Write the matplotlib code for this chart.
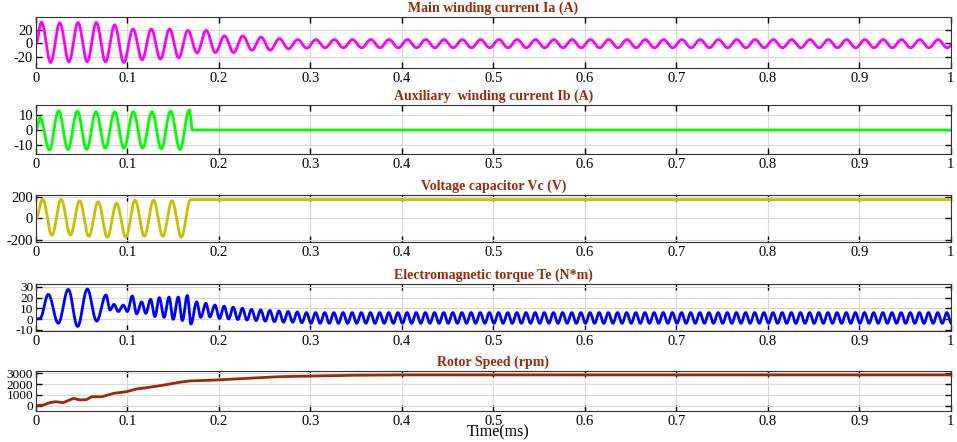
import numpy as np
import matplotlib
matplotlib.use("Agg")
import matplotlib.pyplot as plt

plt.rcParams['font.family'] = ['Liberation Serif', 'DejaVu Serif']
plt.rcParams['axes.unicode_minus'] = False

# ---- data (time in s as labelled "ms") ----
# Main winding current Ia: alternating extrema, first peak at ia_t0, half period ia_h
ia_t0, ia_h = 0.006, 0.01
ia_ext = [31, -28, 30, -27, 30.5, -27, 30.5, -27, 27, -28, 21, -24, 21, -23, 21, -21,
          19, -14, 19, -13.5, 11, -13.5, 11, -10, 9, -10, 7, -8, 5.5, -7]
ia_steady = [5.5, -6.5]

# Auxiliary winding current Ib (switched off at ib_off)
ib_t0, ib_h = 0.0044, 0.0102
ib_ext = [8.7, -13.8, 13.3, -13.4, 13, -13.4, 12.6, -12.6, 12.6, -12.6, 12.6, -12.5,
          12.6, -13, 13, -13.4, 13.8]
ib_off = 0.171

# Capacitor voltage Vc (held at vc_hold after switch-off)
vc_t0, vc_h = 0.0073, 0.0101
vc_ext = [178, -157, 178, -157, 165, -167, 155, -176, 141, -176, 170, -167, 170, -167, 165, -176]
vc_off, vc_hold = 0.169, 175

# Electromagnetic torque Te, transient extrema (time, value)
te_t = [0, 0.0044, 0.0135, 0.0244, 0.0353, 0.0455, 0.0561, 0.0663, 0.0765, 0.0809, 0.0852,
        0.090, 0.0954, 0.0998, 0.1053, 0.110, 0.1155, 0.120, 0.1253, 0.130, 0.1348, 0.140,
        0.1454, 0.150, 0.1555, 0.160, 0.1654, 0.1694, 0.1756, 0.180, 0.1858, 0.190, 0.1956]
te_v = [0, 0.5, 23, -4, 27.7, -7, 28, -2, 22.4, 8.4, 13.7, 7, 13, 7, 21.5, 4.7, 16, 5.3,
        18.4, 2.2, 20, 1.5, 20.5, -0.3, 20.5, -1.5, 22, -4.7, 16, 1.5, 14.6, 2, 13]
# decaying part after 0.1956 (100 Hz, half period 0.005)
te_decay = [0.5, 12, 0, 11, -0.5, 10, -1, 9, -1.5, 8.5, -2, 8, -2.5, 7.5, -3, 7, -3, 6.5,
            -3.5, 6]
te_steady = [-4, 6]
te_h = 0.005

# Rotor speed (rpm)
sp_t = [0, 0.008, 0.015, 0.021, 0.030, 0.041, 0.048, 0.055, 0.061, 0.072, 0.085, 0.099,
        0.110, 0.125, 0.139, 0.157, 0.168, 0.197, 0.23, 0.267, 0.303, 0.35, 0.4, 1.0]
sp_v = [0, 60, 280, 370, 290, 680, 530, 560, 830, 830, 1150, 1300, 1550, 1720, 1900,
        2170, 2290, 2380, 2530, 2690, 2750, 2820, 2850, 2850]

titles = ['Main winding current Ia (A)', 'Auxiliary  winding current Ib (A)',
          'Voltage capacitor Vc (V)', 'Electromagnetic torque Te (N*m)', 'Rotor Speed (rpm)']


def cos_path(tk, vk, n=12):
    # half-cosine segments between successive extrema
    tt, yy = [], []
    for i in range(len(tk) - 1):
        s = np.linspace(0, 1, n, endpoint=False)
        tt.append(tk[i] + (tk[i + 1] - tk[i]) * s)
        yy.append(vk[i] + (vk[i + 1] - vk[i]) * (1 - np.cos(np.pi * s)) / 2)
    tt.append([tk[-1]])
    yy.append([vk[-1]])
    return np.concatenate(tt), np.concatenate(yy)


# Ia
t_ext = ia_t0 + ia_h * np.arange(len(ia_ext))
t_st = np.arange(t_ext[-1] + ia_h, 1.0 + ia_h, ia_h)
ia_tk = np.concatenate([[0], t_ext, t_st])
ia_vk = np.concatenate([[0], ia_ext, np.resize(ia_steady, len(t_st))])
ia_x, ia_y = cos_path(ia_tk, ia_vk)

# Ib
t_ext = ib_t0 + ib_h * np.arange(len(ib_ext))
ib_x, ib_y = cos_path(np.concatenate([[0], t_ext, [ib_off, 1.0]]),
                      np.concatenate([[0], ib_ext, [0, 0]]))

# Vc
t_ext = vc_t0 + vc_h * np.arange(len(vc_ext))
vc_x, vc_y = cos_path(np.concatenate([[0], t_ext, [vc_off, 1.0]]),
                      np.concatenate([[0], vc_ext, [vc_hold, vc_hold]]))

# Te
t_dec = te_t[-1] + te_h * np.arange(1, len(te_decay) + 1)
t_st = np.arange(t_dec[-1] + te_h, 1.0 + te_h, te_h)
te_tk = np.concatenate([te_t, t_dec, t_st])
te_vk = np.concatenate([te_v, te_decay, np.resize(te_steady, len(t_st))])
te_x, te_y = cos_path(te_tk, te_vk)

series = [(ia_x, ia_y), (ib_x, ib_y), (vc_x, vc_y), (te_x, te_y), (sp_t, sp_v)]
colors = ['#FF00FF', '#00FF00', '#C8C000', '#0000FF', '#A0280A']
ylims = [(-36, 39), (-16.5, 17.2), (-220, 218), (-11.2, 32.7), (-490, 3210)]
yticks = [[-20, 0, 20], [-10, 0, 10], [-200, 0, 200], [-10, 0, 10, 20, 30],
          [0, 1000, 2000, 3000]]
# axes rectangles in figure fraction
tops = [0.9622, 0.7624, 0.5588, 0.3575, 0.1606]
bottoms = [0.8462, 0.6516, 0.4525, 0.2511, 0.0701]

fig = plt.figure(figsize=(9.57, 4.42), dpi=100)
xt = np.round(np.arange(0, 1.01, 0.1), 1)
xtl = ['0'] + ['%.1f' % v for v in xt[1:-1]] + ['1']
for i in range(5):
    ax = fig.add_axes([0.0376, bottoms[i], 0.956, tops[i] - bottoms[i]])
    ax.plot(series[i][0], series[i][1], color=colors[i], lw=2.0)
    ax.set_xlim(0, 1)
    ax.set_ylim(*ylims[i])
    ax.set_xticks(xt)
    ax.set_xticklabels(xtl)
    ax.set_yticks(yticks[i])
    ax.grid(True, color='#D9D9D9', lw=0.8)
    ax.tick_params(direction='in', top=True, right=True, length=4, width=1)
    ax.tick_params(axis='x', labelsize=10.5, pad=3)
    ax.tick_params(axis='y', labelsize=9.5 if i >= 3 else 10.5, pad=2)
    for sp in ax.spines.values():
        sp.set_color('#333333')
    ax.set_title(titles[i], fontsize=10, fontweight='bold', color='#9A2A10', pad=3.5)

fig.text(0.52, 0.003, 'Time(ms)', fontsize=11.5, ha='center', va='bottom')
fig.savefig('out.png', dpi=100)
